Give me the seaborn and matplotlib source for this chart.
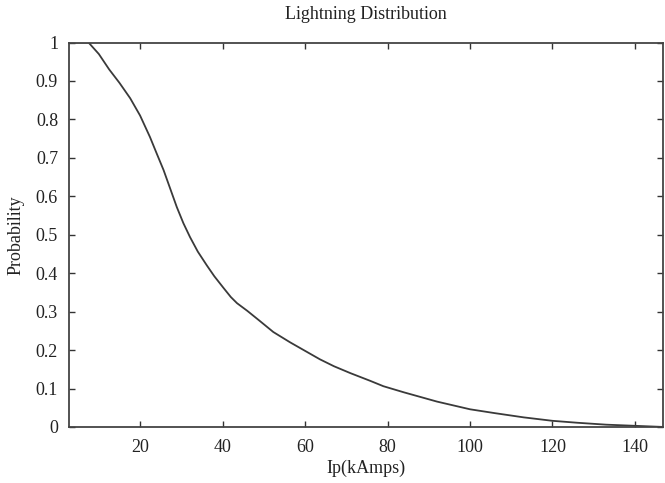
import matplotlib
matplotlib.use("Agg")
from matplotlib import pyplot as plt
import seaborn as sns
import pandas as pd

# values
current_ka = [3, 7.5, 10, 12.5, 15, 17.6, 20, 22.4, 24, 25.7, 27.3, 28.9,
              30.5, 32.1, 34, 36.2, 38, 40.2, 42, 43.5, 46, 49, 52.3, 56.4,
              60, 63.6, 67, 71, 75.8, 79, 84, 87, 92, 100, 106, 113, 120,
              126, 133, 140, 147]
probability = [1.0, 1.0, 0.97, 0.93, 0.895, 0.855, 0.81, 0.754, 0.712, 0.668,
               0.62, 0.572, 0.53, 0.494, 0.456, 0.42, 0.392, 0.362, 0.338,
               0.322, 0.302, 0.276, 0.247, 0.22, 0.198, 0.176, 0.158, 0.14,
               0.12, 0.106, 0.09, 0.081, 0.066, 0.046, 0.036, 0.025, 0.016,
               0.011, 0.006, 0.003, 0.0]
x_ticks = [20, 40, 60, 80, 100, 120, 140]
y_ticks = [0, 0.1, 0.2, 0.3, 0.4, 0.5, 0.6, 0.7, 0.8, 0.9, 1]
y_labels = ["0", "0.1", "0.2", "0.3", "0.4", "0.5", "0.6", "0.7", "0.8", "0.9", "1"]

df = pd.DataFrame({"Ip": current_ka, "P": probability})

sns.set_style("ticks")
plt.rcParams["font.family"] = ["Liberation Serif", "DejaVu Serif"]
plt.rcParams["font.size"] = 13

fig = plt.figure(figsize=(6.65, 4.83), dpi=100)
ax = fig.add_axes([0.104, 0.116, 0.893, 0.796])

sns.lineplot(data=df, x="Ip", y="P", ax=ax, color="#3a3a3a", linewidth=1.3)

ax.set_xlim(2.8, 146.8)
ax.set_ylim(0, 1)
ax.set_xticks(x_ticks)
ax.set_xticklabels([str(t) for t in x_ticks])
ax.set_yticks(y_ticks)
ax.set_yticklabels(y_labels)
ax.tick_params(direction="in", length=4, width=1, colors="#333333",
               labelcolor="#222222", top=True, right=True, labelsize=13)
ax.tick_params(axis="x", pad=9)
ax.tick_params(axis="y", pad=8)
for s in ax.spines.values():
    s.set_color("#444444")
    s.set_linewidth(1.3)

ax.set_xlabel("Ip(kAmps)", fontsize=13, color="#222222", labelpad=2)
ax.set_ylabel("Probability", fontsize=13, color="#222222", labelpad=8)
ax.set_title("Lightning Distribution", fontsize=13, color="#222222", pad=17)

fig.savefig("out.png", dpi=100)
